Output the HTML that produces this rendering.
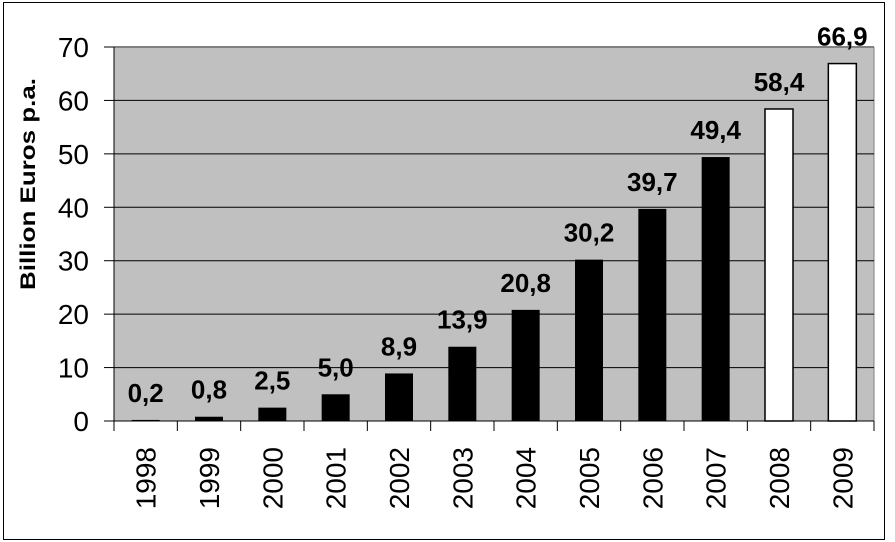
<!DOCTYPE html>
<html><head><meta charset="utf-8"><style>
body{margin:0;background:#fff}
svg{display:block;font-family:"Liberation Sans",Arial,sans-serif}
</style></head><body>
<svg id="chart" width="895" height="542">
<rect x="3.5" y="2.5" width="881" height="537" fill="#fff" stroke="#000" stroke-width="1"/>
<rect x="114" y="47" width="760" height="374" fill="#c0c0c0"/>
<line x1="114" y1="47" x2="874" y2="47" stroke="#808080" stroke-width="2"/>
<line x1="874" y1="47" x2="874" y2="421" stroke="#808080" stroke-width="1"/>
<g id="grid"></g><g id="bars"></g><g id="labels"></g><g id="axes"></g>
<text transform="translate(35,184) rotate(-90)" text-anchor="middle" font-size="21" font-weight="bold" textLength="212" lengthAdjust="spacingAndGlyphs">Billion Euros p.a.</text>
</svg>
<script>
const categories=["1998","1999","2000","2001","2002","2003","2004","2005","2006","2007","2008","2009"];
const values=[0.2,0.8,2.5,5.0,8.9,13.9,20.8,30.2,39.7,49.4,58.4,66.9];
const valueLabels=["0,2","0,8","2,5","5,0","8,9","13,9","20,8","30,2","39,7","49,4","58,4","66,9"];
const forecast=[false,false,false,false,false,false,false,false,false,false,true,true];
const yTicks=[0,10,20,30,40,50,60,70];
const NS="http://www.w3.org/2000/svg";
const L=114,R=874,T=47,B=421,yMax=70;
const cw=(R-L)/categories.length;
const y=v=>B-(v/yMax)*(B-T);
const xc=i=>L+cw*(i+0.5);
function mk(tag,attrs,parent){const e=document.createElementNS(NS,tag);for(const k in attrs)e.setAttribute(k,attrs[k]);parent.appendChild(e);return e;}
const grid=document.getElementById('grid'),bars=document.getElementById('bars'),labels=document.getElementById('labels'),axes=document.getElementById('axes');
yTicks.forEach(t=>{
  if(t>0&&t<yMax){const g=mk('line',{x1:L,x2:R,y1:y(t),y2:y(t),stroke:'#000','stroke-width':1},grid);
  
  }
  const tk=mk('line',{x1:L-10,x2:L,y1:y(t),y2:y(t),stroke:'#000'},axes);
  
  
  const tx=mk('text',{x:L-25,y:y(t)+10,'text-anchor':'end','font-size':28},axes);
  tx.textContent=t;
  
  
});
mk('line',{x1:L,x2:L,y1:T,y2:B,stroke:'#000'},axes);
mk('line',{x1:L,x2:R,y1:B,y2:B,stroke:'#000'},axes);
categories.forEach((c,i)=>{
  const bw=28,x=xc(i)-bw/2,v=values[i];
  const b=mk('rect',{x:x,y:y(v),width:bw,height:B-y(v),fill:forecast[i]?'#fff':'#000',stroke:'#000','stroke-width':forecast[i]?1.5:0},bars);
  
  
  const vl=mk('text',{x:xc(i),y:y(v)-18,'text-anchor':'middle','font-size':26,'font-weight':'bold'},labels);
  vl.textContent=valueLabels[i];
  
  
  const tk=mk('line',{x1:L+cw*(i+1),x2:L+cw*(i+1),y1:B,y2:B+10,stroke:'#000'},axes);
  
  
  const xl=mk('text',{transform:'translate('+(xc(i)+10)+','+(B+26)+') rotate(-90)','text-anchor':'end','font-size':28},axes);
  xl.textContent=c;
  
  
});
mk('line',{x1:L,x2:L,y1:B,y2:B+10,stroke:'#000'},axes);
</script>
</body></html>
